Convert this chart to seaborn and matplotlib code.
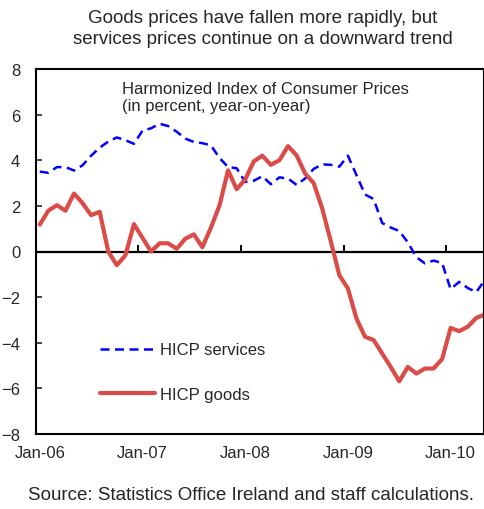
import pandas as pd
import matplotlib
matplotlib.use("Agg")
import matplotlib.pyplot as plt
import seaborn as sns

# monthly, Jan-06 .. May-10 (year-on-year, percent)
months = pd.date_range("2006-01-01", periods=53, freq="MS")

services = [3.5, 3.45, 3.7, 3.7, 3.55, 3.78, 4.2, 4.55, 4.82, 5.0,
            4.88, 4.72, 5.3, 5.4, 5.6, 5.5, 5.25, 4.95, 4.8, 4.75,
            4.65, 4.1, 3.7, 3.65, 3.05, 3.1, 3.3, 2.95, 3.25, 3.2,
            2.92, 3.2, 3.62, 3.82, 3.8, 3.72, 4.2, 3.35, 2.5, 2.3,
            1.25, 1.05, 0.9, 0.4, -0.25, -0.52, -0.4, -0.5, -1.65, -1.33,
            -1.6, -1.78, -1.25]

goods = [1.18, 1.79, 2.03, 1.79, 2.54, 2.12, 1.59, 1.74, 0.0, -0.6,
         -0.17, 1.2, 0.6, 0.0, 0.36, 0.36, 0.12, 0.56, 0.75, 0.19,
         1.05, 2.02, 3.56, 2.73, 3.16, 3.95, 4.2, 3.8, 4.0, 4.62,
         4.22, 3.42, 3.0, 1.88, 0.45, -1.04, -1.62, -2.94, -3.74, -3.88,
         -4.47, -5.06, -5.69, -5.06, -5.35, -5.13, -5.13, -4.72, -3.35, -3.49,
         -3.30, -2.91, -2.76]

yticks = [-8, -6, -4, -2, 0, 2, 4, 6, 8]
xlabels = ["Jan-06", "Jan-07", "Jan-08", "Jan-09", "Jan-10"]


def main():
    sns.set_style("white")
    plt.rcParams["font.family"] = ["Liberation Sans", "DejaVu Sans"]

    df = pd.DataFrame({"month": months, "services": services, "goods": goods})
    df["pos"] = range(len(df))

    fig = plt.figure(figsize=(4.84, 5.10), dpi=100)
    ax = fig.add_axes([35.5 / 484, 75 / 510, 448.5 / 484, 365 / 510])

    sns.lineplot(x="pos", y="services", data=df, ax=ax, color="#0000FF",
                 linewidth=1.8, dashes=False, label="HICP services")
    sns.lineplot(x="pos", y="goods", data=df, ax=ax, color="#DB4B47",
                 linewidth=3.0, label="HICP goods")
    ax.lines[0].set_dashes((3.6, 2.2))
    ax.lines[0].set_dash_capstyle("butt")

    ax.set_xlim(-0.5, 51.9)
    ax.set_ylim(-8, 8)
    ax.set_xlabel("")
    ax.set_ylabel("")

    # zero line with tick marks at year boundaries
    ax.axhline(0, color="black", linewidth=1.6, zorder=1)
    year_pos = df["pos"][df["month"].dt.month == 1].tolist()
    bounds = [p - 0.5 for p in year_pos[1:]]
    ax.plot(bounds, [0] * len(bounds), ls="none", marker=2, ms=5,
            mew=1.4, color="black")

    ax.set_xticks(year_pos)
    ax.set_xticklabels(xlabels)
    ax.set_yticks(yticks)
    ax.tick_params(axis="x", length=0, pad=8, labelsize=12)
    ax.tick_params(axis="y", direction="in", length=4, width=1.2,
                   pad=11, labelsize=12, left=True)

    for side in ["left", "bottom", "top", "right"]:
        ax.spines[side].set_color("black")
        ax.spines[side].set_linewidth(1.5)

    leg = ax.legend(loc="center left", bbox_to_anchor=(100 / 484, 1 - 373 / 510),
                    bbox_transform=fig.transFigure, frameon=False, fontsize=12,
                    handlelength=3.3, handletextpad=0.3, labelspacing=1.75,
                    borderpad=0, borderaxespad=0)
    leg.get_lines()[0].set_dashes((3.6, 2.2))

    fig.text(122 / 484, 1 - 82 / 510,
             "Harmonized Index of Consumer Prices\n(in percent, year-on-year)",
             ha="left", va="top", fontsize=12, linespacing=1.15)

    fig.text(263 / 484, 1 - 29 / 510,
             "Goods prices have fallen more rapidly, but\n"
             "services prices continue on a downward trend",
             ha="center", va="center", fontsize=13.5, linespacing=1.3)

    fig.text(28 / 484, 1 - 496 / 510,
             "Source: Statistics Office Ireland and staff calculations.",
             ha="left", va="center", fontsize=13.5)

    fig.savefig("out.png", dpi=100)
    plt.close()


if __name__ == "__main__":
    main()
